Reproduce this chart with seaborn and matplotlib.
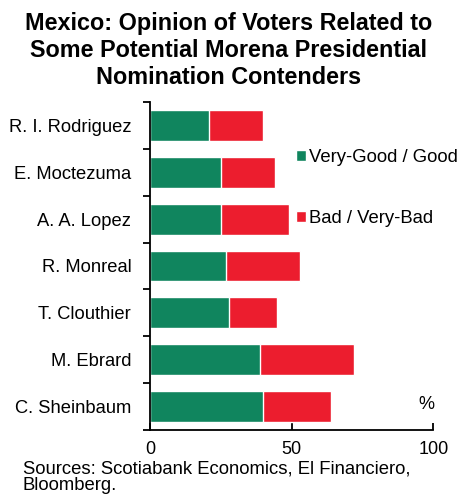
import numpy as np
import pandas as pd
import matplotlib
matplotlib.use('Agg')
import matplotlib.pyplot as plt
from matplotlib.ticker import FixedLocator
import seaborn as sns

# Data
CANDIDATES = ['R. I. Rodriguez', 'E. Moctezuma', 'A. A. Lopez', 'R. Monreal',
              'T. Clouthier', 'M. Ebrard', 'C. Sheinbaum']
GOOD = [21, 25, 25, 27, 28, 39, 40]
BAD = [19, 19, 24, 26, 17, 33, 24]
XTICKS = [0, 50, 100]

GREEN = '#10855E'
RED = '#EC1D2E'

sns.set_style('ticks')
plt.rcParams['font.family'] = ['Liberation Sans', 'DejaVu Sans']
plt.rcParams['text.color'] = 'black'
plt.rcParams['xtick.color'] = 'black'
plt.rcParams['ytick.color'] = 'black'

df = pd.DataFrame({'name': CANDIDATES, 'good': GOOD, 'bad': BAD})
df['total'] = df['good'] + df['bad']

fig = plt.figure(figsize=(4.58, 4.99), dpi=100)
ax = fig.add_axes([150 / 458, 1 - 430 / 499, 283.3 / 458, 328 / 499])

# stacked: total bar in red, green drawn on top of it
sns.barplot(data=df, x='total', y='name', color=RED, width=0.66, saturation=1,
            label='Bad / Very-Bad', ax=ax, orient='h')
sns.barplot(data=df, x='good', y='name', color=GREEN, width=0.66, saturation=1,
            label='Very-Good / Good', ax=ax, orient='h')

ax.set_xlim(0, 100)
ax.set_ylim(6.5, -0.5)
ax.set_xticks(XTICKS)
ax.set_xlabel('')
ax.set_ylabel('')
sns.despine(ax=ax)
for s in ['left', 'bottom']:
    ax.spines[s].set_linewidth(1.3)
    ax.spines[s].set_color('black')

ax.tick_params(axis='x', direction='in', length=5, width=1.3, labelsize=13, pad=8)
ax.tick_params(axis='y', which='major', length=0, labelsize=13.2, pad=13.5)
ax.yaxis.set_minor_locator(FixedLocator(np.arange(-0.5, 6.6, 1)))
ax.tick_params(axis='y', which='minor', direction='out', length=5, width=1.3)

handles, labels = ax.get_legend_handles_labels()
order = [labels.index('Very-Good / Good'), labels.index('Bad / Very-Bad')]
ax.legend([handles[i] for i in order], [labels[i] for i in order],
          loc='upper left', bbox_to_anchor=(0.488, 0.878), frameon=False,
          fontsize=13.3, handlelength=0.55, handleheight=0.55, handletextpad=0.15,
          labelspacing=2.35, borderaxespad=0)

ax.text(1.005, 0.065, '%', transform=ax.transAxes, fontsize=13, ha='right')

fig.text(0.5, 1 - 12 / 499, 'Mexico: Opinion of Voters Related to\nSome Potential Morena Presidential\nNomination Contenders',
         ha='center', va='top', fontsize=16.8, fontweight='bold', linespacing=1.22)
fig.text(23 / 458, 1 - 460 / 499, 'Sources: Scotiabank Economics, El Financiero,\nBloomberg.',
         ha='left', va='top', fontsize=13.3, linespacing=0.98)

fig.savefig('out.png', dpi=100)
